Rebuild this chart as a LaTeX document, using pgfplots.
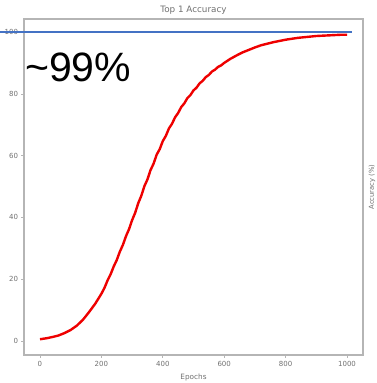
\documentclass[border=0pt]{standalone}
\usepackage{pgfplots}
\pgfplotsset{compat=1.18}
\usepackage{fontspec}
\setmainfont{DejaVu Sans}
\newfontfamily\arialfont{Liberation Sans}
\definecolor{txtgray}{HTML}{707070}
\definecolor{framegray}{HTML}{B5B5B5}
\definecolor{lineblue}{HTML}{4472C4}
\definecolor{curvered}{HTML}{EE0000}
\begin{document}
\begin{tikzpicture}
\useasboundingbox (-24pt,-28pt) rectangle (353pt,355pt);
\begin{axis}[
  at={(0pt,0pt)}, anchor=south west,
  scale only axis, width=339pt, height=336pt,
  xmin=-52, xmax=1052, ymin=-4.5, ymax=104.2,
  xtick={0,200,400,600,800,1000},
  ytick={0,20,40,60,80,100},
  tick align=outside, tick pos=left,
  major tick length=2.5pt,
  every tick/.style={framegray, line width=0.6pt},
  axis line style={framegray, line width=1.2pt},
  ticklabel style={font=\fontsize{7}{8}\selectfont, text=txtgray},
  /pgf/number format/assume math mode=true,
  /pgf/number format/1000 sep={},
  clip=false,
]
\addplot[curvered, line width=2.4pt, line join=round] coordinates {
(0,0.6) (20,0.9) (40,1.3) (60,1.8) (80,2.6) (100,3.6) (120,5.0) (140,6.9)
(160,9.4) (180,12.1) (200,15.3) (210,17.2) (220,19.6) (230,21.6) (240,24.1)
(250,26.2) (260,28.9) (270,31.1) (280,33.9) (290,36.2) (300,39.1) (310,41.5)
(320,44.6) (330,47.0) (340,50.1) (350,52.3) (360,55.3) (370,57.4) (380,60.3)
(390,62.1) (400,64.7) (410,66.4) (420,68.8) (430,70.3) (440,72.4) (450,73.8)
(460,75.7) (470,76.9) (480,78.6) (490,79.6) (500,81.1) (510,82.0) (520,83.4)
(530,84.2) (540,85.4) (550,86.1) (560,87.2) (570,87.8) (580,88.7) (590,89.2)
(600,90.0) (620,91.3) (640,92.4) (660,93.4) (680,94.2) (700,95.0) (720,95.7)
(740,96.2) (760,96.7) (780,97.1) (800,97.5) (820,97.8) (840,98.1) (860,98.3)
(880,98.5) (900,98.7) (920,98.8) (940,98.9) (960,99.0) (980,99.1) (1000,99.1)
};
\addplot[lineblue, line width=1.3pt] coordinates {(-130,100) (1016,100)};
\end{axis}
\node[font=\fontsize{8.8}{10}\selectfont, text=txtgray] at (169.5pt,345pt) {Top 1 Accuracy};
\node[font=\fontsize{7.3}{8}\selectfont, text=txtgray] at (169.5pt,-22pt) {Epochs};
\node[font=\fontsize{6.8}{7}\selectfont, text=txtgray, rotate=90] at (348pt,168pt) {Accuracy (\%)};
\node[font=\arialfont\fontsize{41}{44}\selectfont, anchor=base west, inner sep=0pt] at (1pt,273pt) {\textasciitilde 99\%};
\end{tikzpicture}
\end{document}
